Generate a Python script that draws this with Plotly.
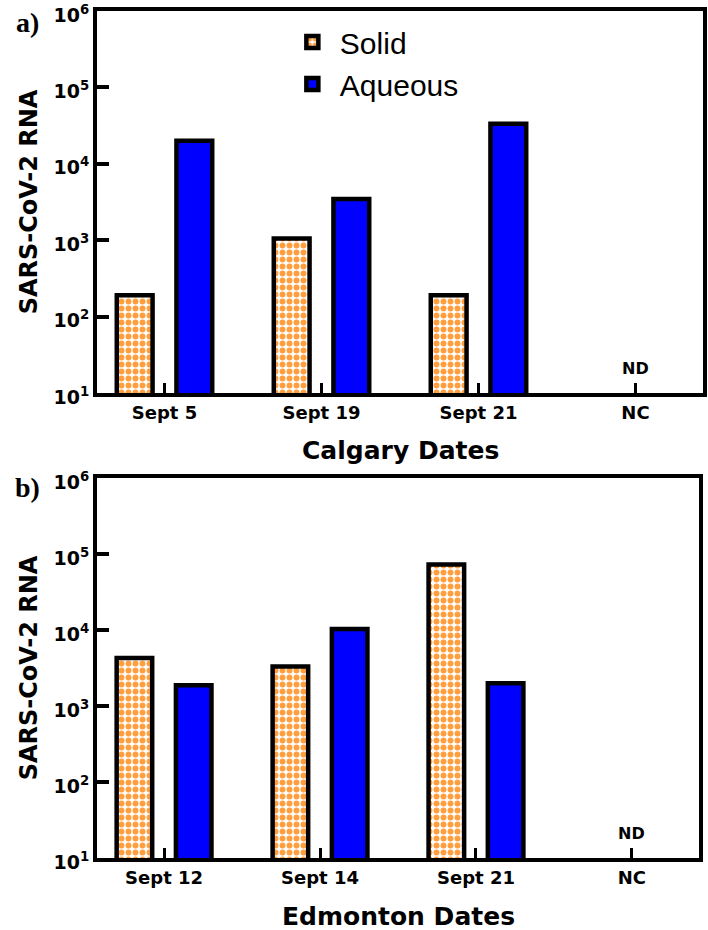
import plotly.graph_objects as go

# ---------------- data ----------------
calgary_dates = ["Sept 5", "Sept 19", "Sept 21", "NC"]
calgary_solid = [190, 1050, 190, None]
calgary_aqueous = [20000, 3450, 33500, None]

edmonton_dates = ["Sept 12", "Sept 14", "Sept 21", "NC"]
edmonton_solid = [4300, 3300, 73000, None]
edmonton_aqueous = [1870, 10300, 2000, None]

y_tickvals = [1e1, 1e2, 1e3, 1e4, 1e5, 1e6]
y_ticktext = ["10<sup>1</sup>", "10<sup>2</sup>", "10<sup>3</sup>",
              "10<sup>4</sup>", "10<sup>5</sup>", "10<sup>6</sup>"]
series_names = ["Solid", "Aqueous"]
x_titles = ["Calgary Dates", "Edmonton Dates"]
y_title = "SARS-CoV-2 RNA"
nd_category = "NC"
nd_text = "ND"

# ---------------- styles ----------------
ORANGE = "#FF9E3D"
BLUE = "#0000FF"
BOLDFAM = "DejaVu Sans"
BOLD = dict(family=BOLDFAM, color="black", weight="bold")

solid_marker = dict(
    color="white",
    line=dict(color="black", width=4.5),
    pattern=dict(shape=".", fgcolor=ORANGE, bgcolor="white", size=7,
                 solidity=0.55, fillmode="replace"),
)
aq_marker = dict(color=BLUE, line=dict(color="black", width=4.5))

fig = go.Figure()
fig.add_trace(go.Bar(x=calgary_dates, y=calgary_solid, name=series_names[0],
                     marker=solid_marker, xaxis="x", yaxis="y", showlegend=True))
fig.add_trace(go.Bar(x=calgary_dates, y=calgary_aqueous, name=series_names[1],
                     marker=aq_marker, xaxis="x", yaxis="y", showlegend=True))
fig.add_trace(go.Bar(x=edmonton_dates, y=edmonton_solid, name=series_names[0],
                     marker=solid_marker, xaxis="x2", yaxis="y2", showlegend=False))
fig.add_trace(go.Bar(x=edmonton_dates, y=edmonton_aqueous, name=series_names[1],
                     marker=aq_marker, xaxis="x2", yaxis="y2", showlegend=False))

common_x = dict(
    type="category", range=[-0.43, 3.43], showline=True, linewidth=4,
    linecolor="black", mirror=True, ticks="inside", ticklen=10, tickwidth=3,
    tickcolor="black", showgrid=False, zeroline=False, automargin=False,
    tickfont=dict(size=18, **BOLD),
)
common_y = dict(
    type="log", range=[1, 6], tickvals=y_tickvals, ticktext=y_ticktext,
    showline=True, linewidth=4, linecolor="black", mirror=True,
    ticks="inside", ticklen=12, tickwidth=4, tickcolor="black",
    showgrid=False, zeroline=False, automargin=False,
    ticklabeloverflow="allow", ticklabelshift=4,
    tickfont=dict(size=19, **BOLD),
)
xtitle_font = dict(size=25, **BOLD)
ytitle_font = dict(size=24, **BOLD)

fig.update_layout(
    width=708, height=930,
    margin=dict(l=97, r=5, t=11, b=72),
    paper_bgcolor="white", plot_bgcolor="white",
    barmode="group", bargap=0.24, bargroupgap=0.4,
    xaxis=dict(domain=[0, 1], anchor="y", **common_x),
    yaxis=dict(domain=[0.549, 1], anchor="x", **common_y,
               title=dict(text=y_title, font=ytitle_font, standoff=10)),
    xaxis2=dict(domain=[0, 0.9934], anchor="y2", **common_x),
    yaxis2=dict(domain=[0, 0.4486], anchor="x2", **common_y,
                title=dict(text=y_title, font=ytitle_font, standoff=10)),
    legend=dict(x=0.31, y=0.994, xanchor="left", yanchor="top",
                font=dict(family="Liberation Sans", size=30, color="black"),
                bgcolor="rgba(0,0,0,0)", tracegroupgap=0, itemwidth=45),
    showlegend=True,
)

annotations = [
    dict(text=x_titles[0], x=0.5, y=0.4817, xref="x domain", yref="paper",
         xanchor="center", yanchor="middle", showarrow=False, font=xtitle_font),
    dict(text=x_titles[1], x=0.5, y=-0.0685, xref="x2 domain", yref="paper",
         xanchor="center", yanchor="middle", showarrow=False, font=xtitle_font),
    dict(text="a)", x=-0.115, y=0.987, xref="paper", yref="paper",
         xanchor="center", yanchor="middle",
         showarrow=False, font=dict(family="Liberation Serif", size=28,
                                    color="black", weight="bold")),
    dict(text="b)", x=-0.115, y=0.438, xref="paper", yref="paper",
         xanchor="center", yanchor="middle",
         showarrow=False, font=dict(family="Liberation Serif", size=28,
                                    color="black", weight="bold")),
    dict(text=nd_text, x=nd_category, y=1.17, xref="x", yref="y", yanchor="bottom",
         showarrow=False, font=dict(size=16, **BOLD)),
    dict(text=nd_text, x=nd_category, y=1.17, xref="x2", yref="y2", yanchor="bottom",
         showarrow=False, font=dict(size=16, **BOLD)),
]
fig.update_layout(annotations=annotations)

fig.write_html("out.html",
               config={"displayModeBar": False},
               post_script="document.body.style.margin='0';document.body.style.padding='0';")
